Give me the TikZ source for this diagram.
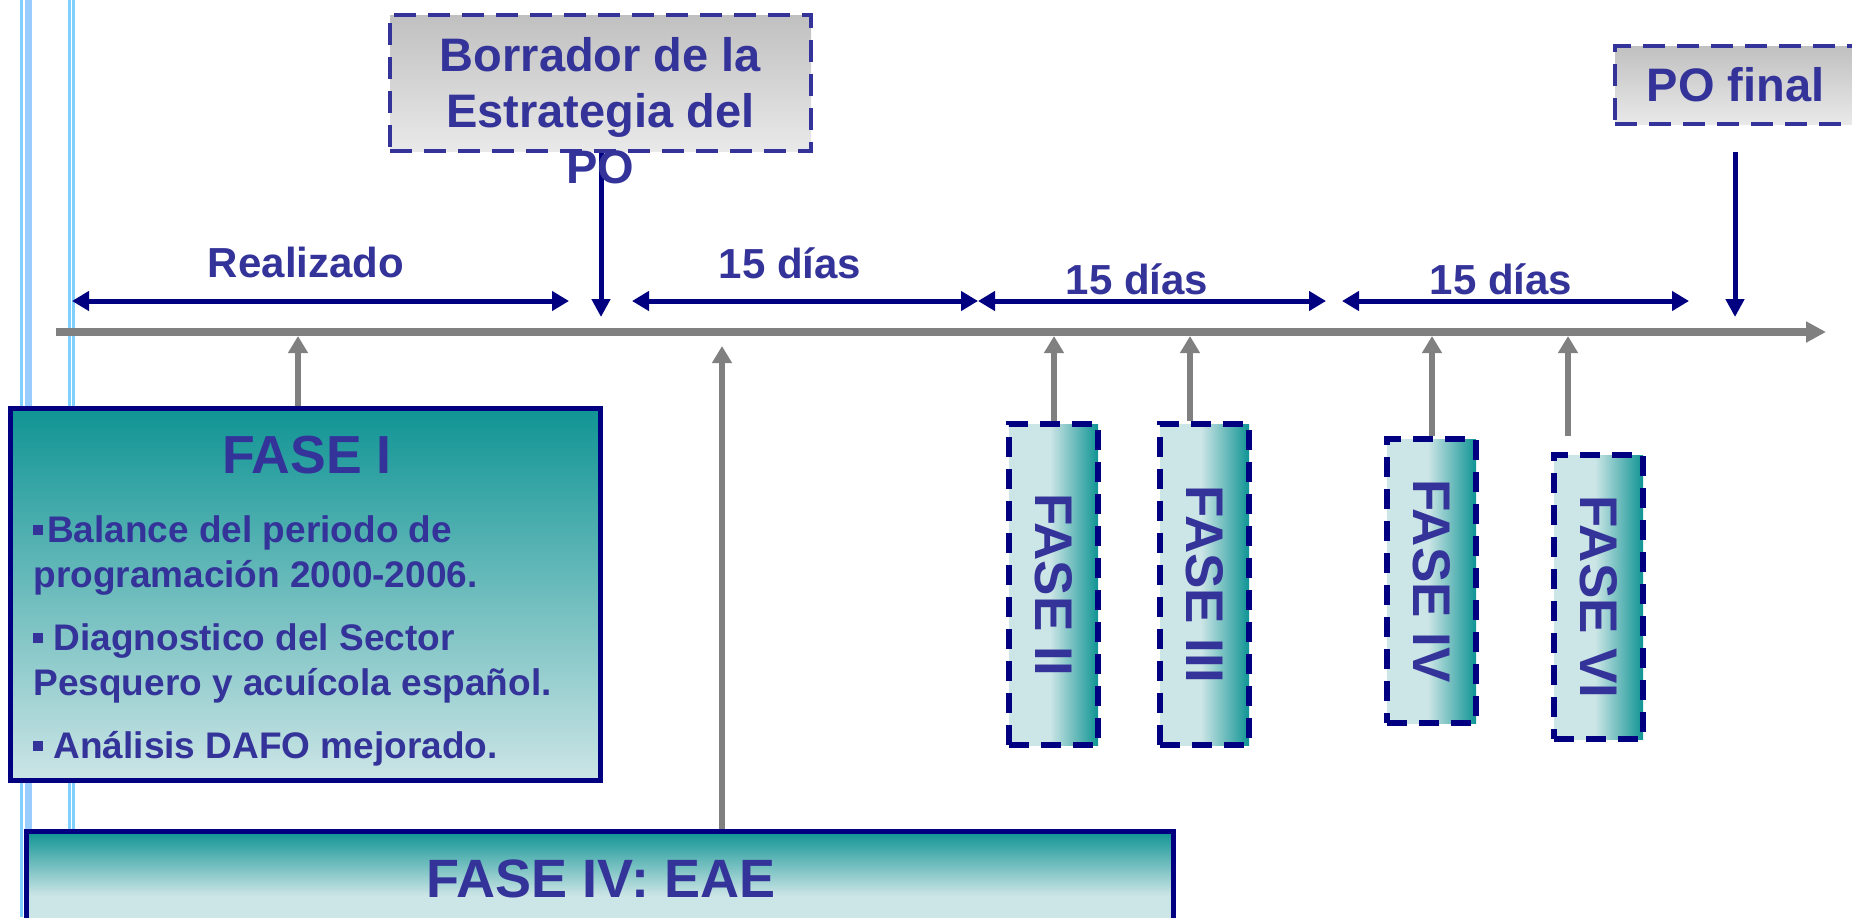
\documentclass[tikz,border=0pt]{standalone}
\usepackage{fontspec}
\setmainfont{Liberation Sans}
\usepackage{graphicx}
\usetikzlibrary{arrows.meta}
\definecolor{txtblue}{HTML}{333399}
\definecolor{navyline}{HTML}{000080}
\definecolor{axisgray}{HTML}{808080}
\definecolor{tealdark}{HTML}{109494}
\definecolor{teallight}{HTML}{CCE5E6}
\definecolor{greytop}{HTML}{C0C0C0}
\definecolor{greybot}{HTML}{E9E9E9}
\definecolor{railA}{HTML}{80D0FF}
\definecolor{railB}{HTML}{99CCFF}
\pgfdeclarehorizontalshading{fasecol}{100bp}{color(0bp)=(teallight); color(25bp)=(teallight); color(48bp)=(teallight); color(75bp)=(tealdark); color(100bp)=(tealdark)}
\pgfdeclareverticalshading{eaecol}{100bp}{color(0bp)=(teallight); color(50bp)=(teallight); color(75bp)=(tealdark); color(100bp)=(tealdark)}
\newcommand{\sqbul}{\raisebox{0.19em}{\rule{0.27em}{0.27em}}}
\begin{document}
\begin{tikzpicture}[x=0.5pt,y=-0.5pt,
  txt/.style={text=txtblue,inner sep=0pt},
  solidbox/.style={draw=navyline,line width=2.5pt,inner sep=0pt},
  dashbox/.style={draw=navyline,line width=2.75pt,dash pattern=on 10pt off 6pt,inner sep=0pt,shade,shading=fasecol,minimum width=44.5pt,text=txtblue,font=\fontsize{26.5pt}{30pt}\selectfont\bfseries},
  greybox/.style={draw=txtblue,line width=2.25pt,dash pattern=on 11pt off 6pt,top color=greytop,bottom color=greybot,inner sep=0pt},
  spanarr/.style={draw=navyline,line width=2.5pt,{Triangle[length=8.5pt,width=9.5pt]}-{Triangle[length=8.5pt,width=9.5pt]}},
  downarr/.style={draw=navyline,line width=2.5pt,-{Triangle[length=9pt,width=9pt]}},
  uparr/.style={draw=axisgray,line width=3pt,-{Triangle[length=8.5pt,width=9.5pt]}}]
\useasboundingbox (0,0) rectangle (1852,917);
\draw[railA,line width=1.5pt] (21.5,0) -- (21.5,917);
\draw[railB,line width=3.5pt] (28.5,0) -- (28.5,917);
\draw[railA,line width=1.5pt] (69.5,0) -- (69.5,917);
\draw[railA,line width=1.5pt] (73.5,0) -- (73.5,917);
\coordinate (ax0) at (56,332);
\coordinate (ax1) at (1826,332);
\draw[axisgray,line width=4pt,-{Triangle[length=10pt,width=10pt]}] (ax0) -- (ax1);
\node[greybox,minimum width=210.5pt,minimum height=68pt] (bor) at (600.5,83) {};
\coordinate (borend) at (601,317);
\draw[downarr] (bor.south -| borend) -- (borend);
\node[txt,font=\fontsize{23.5pt}{28pt}\selectfont\bfseries,align=center] (bortxt) at (600.5,111) {Borrador de la\\Estrategia del\\PO};
\node[greybox,txt,font=\fontsize{23.5pt}{28pt}\selectfont\bfseries,minimum width=120.5pt,minimum height=39pt] (pof) at (1735.5,85) {PO final};
\coordinate (pofend) at (1735,317);
\draw[downarr,shorten <=13pt] (pof.south -| pofend) -- (pofend);
\coordinate (s0) at (72,301);
\coordinate (s1) at (569,301);
\coordinate (s2) at (632,301);
\coordinate (s3) at (978,301);
\coordinate (s4) at (1326,301);
\coordinate (s5) at (1342,301);
\coordinate (s6) at (1689,301);
\draw[spanarr] (s0) -- (s1);
\draw[spanarr] (s2) -- (s3);
\draw[spanarr] (s3) -- (s4);
\draw[spanarr] (s5) -- (s6);
\node[txt,font=\fontsize{21pt}{25pt}\selectfont\bfseries,anchor=base] (lreal) at (306,277) {Realizado};
\node[txt,font=\fontsize{21pt}{25pt}\selectfont\bfseries,anchor=base] (ldias1) at (790,278) {15 días};
\node[txt,font=\fontsize{21pt}{25pt}\selectfont\bfseries,anchor=base] (ldias2) at (1137,294) {15 días};
\node[txt,font=\fontsize{21pt}{25pt}\selectfont\bfseries,anchor=base] (ldias3) at (1501,294) {15 días};
\node[solidbox,top color=tealdark,bottom color=teallight,minimum width=295pt,minimum height=186pt] (f1) at (305.5,594) {};
\node[txt,font=\fontsize{26.8pt}{30pt}\selectfont\bfseries,anchor=base] (f1tit) at (307,473) {FASE I};
\node[txt,font=\fontsize{18.5pt}{22.5pt}\selectfont\bfseries,align=left,anchor=north west] (f1txt) at (33,515) {\sqbul\hspace{0.1em}Balance del periodo de\\programación 2000-2006.\\[9pt]\sqbul\ Diagnostico del Sector\\Pesquero y acuícola español.\\[9pt]\sqbul\ Análisis DAFO mejorado.};
\node[solidbox,shade,shading=eaecol,minimum width=573.5pt,minimum height=64pt] (eae) at (600,895.5) {};
\node[txt,font=\fontsize{27pt}{30pt}\selectfont\bfseries,anchor=base] (eaetit) at (601,897) {FASE IV: EAE};
\node[dashbox,minimum height=160.5pt] (f2) at (1053.5,584.5) {\rotatebox{-90}{FASE II}};
\node[dashbox,minimum height=160.5pt] (f3) at (1204.5,584.5) {\rotatebox{-90}{FASE III}};
\node[dashbox,minimum height=142pt] (f4) at (1431.5,581) {\rotatebox{-90}{FASE IV}};
\node[dashbox,minimum height=142pt] (f6) at (1598.5,597) {\rotatebox{-90}{FASE VI}};
\coordinate (t1) at (298,336);
\coordinate (te) at (722,346);
\coordinate (t2) at (1054,336);
\coordinate (t3) at (1190,336);
\coordinate (t4) at (1432,336);
\coordinate (t6) at (1568,336);
\draw[uparr] (f1.north -| t1) -- (t1);
\draw[uparr] (eae.north -| te) -- (te);
\draw[uparr] (f2.north -| t2) -- (t2);
\draw[uparr] (f3.north -| t3) -- (t3);
\draw[uparr] (f4.north -| t4) -- (t4);
\draw[uparr,shorten <=8pt] (f6.north -| t6) -- (t6);
\end{tikzpicture}
\end{document}
